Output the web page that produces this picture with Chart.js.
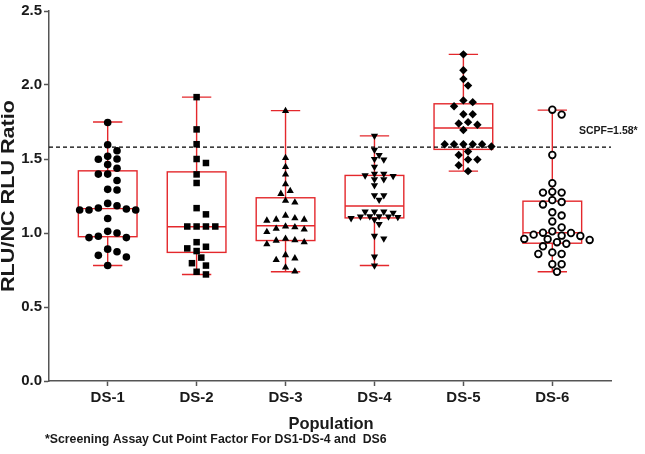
<!DOCTYPE html>
<html>
<head>
<meta charset="utf-8">
<script src="https://cdn.jsdelivr.net/npm/chart.js"></script>
<style>
  html, body { margin: 0; padding: 0; background: #fff; }
  #wrap { width: 645px; height: 454px; }
</style>
</head>
<body>
<div id="wrap"><canvas id="chart" width="645" height="454"></canvas></div>
<script>
// population labels
let categories = ["DS-1", "DS-2", "DS-3", "DS-4", "DS-5", "DS-6"];

// individual ratios
let ds1 = [1.747, 1.596, 1.556, 1.498, 1.518, 1.50, 1.462, 1.438, 1.398, 1.398, 1.355, 1.291, 1.295,
  1.20, 1.184, 1.162, 1.155, 1.169, 1.155, 1.155, 1.098, 1.0, 1.011, 0.969, 0.969, 0.978,
  0.873, 0.891, 0.849, 0.838, 0.78];
let ds2 = [1.918, 1.70, 1.60, 1.50, 1.473, 1.396, 1.338, 1.168, 1.126, 1.044, 1.044, 1.044, 1.044,
  0.938, 0.907, 0.896, 0.878, 0.834, 0.78, 0.796, 0.72, 0.738];
let ds3 = [1.825, 1.507, 1.447, 1.396, 1.33, 1.284, 1.265, 1.218, 1.207, 1.118, 1.091, 1.084, 1.091,
  1.1, 1.04, 1.024, 1.007, 1.029, 1.044, 0.962, 0.949, 0.924, 0.938, 0.951, 0.829, 0.818,
  0.851, 0.767, 0.74];
let ds4 = [1.656, 1.562, 1.5, 1.496, 1.527, 1.447, 1.40, 1.384, 1.389, 1.362, 1.40, 1.362, 1.322,
  1.255, 1.255, 1.224, 1.113, 1.107, 1.144, 1.113, 1.144, 1.091, 1.136, 1.1, 1.144, 1.111,
  1.111, 1.06, 0.98, 0.962, 0.84, 0.78];
let ds5 = [2.207, 2.1, 2.04, 1.996, 1.896, 1.884, 1.856, 1.802, 1.802, 1.749, 1.731, 1.74, 1.696,
  1.6, 1.6, 1.6, 1.6, 1.6, 1.551, 1.584, 1.527, 1.496, 1.496, 1.458, 1.418];
let ds6 = [1.833, 1.80, 1.527, 1.336, 1.278, 1.273, 1.273, 1.209, 1.193, 1.222, 1.14, 1.078, 1.118,
  1.038, 1.011, 1.0, 0.989, 1.002, 0.982, 0.96, 0.953, 0.927, 0.938, 0.958, 0.98, 0.91,
  0.858, 0.858, 0.869, 0.789, 0.789, 0.738];

// box and whisker stats (min to max)
let whiskerMin = [0.78, 0.72, 0.738, 0.78, 1.418, 0.738];
let q1 = [0.975, 0.869, 0.949, 1.102, 1.565, 0.931];
let median = [1.165, 1.042, 1.049, 1.182, 1.709, 1.002];
let q3 = [1.42, 1.413, 1.238, 1.389, 1.873, 1.215];
let whiskerMax = [1.75, 1.918, 1.827, 1.656, 2.207, 1.83];

let cutPoint = 1.58;
let yTicks = [0, 0.5, 1.0, 1.5, 2.0, 2.5];

let groups = [ds1, ds2, ds3, ds4, ds5, ds6];
let red = "#e4282c";
let fontFam = "'Liberation Sans', Arial, sans-serif";

let markers = [
  { pointStyle: "circle", radius: 3.8, rotation: 0, bg: "#000", border: "#000", bw: 0, gap: 8 },
  { pointStyle: "rect", radius: 4.6, rotation: 0, bg: "#000", border: "#000", bw: 0, gap: 8 },
  { pointStyle: "triangle", radius: 4.2, rotation: 0, bg: "#000", border: "#000", bw: 0, gap: 7.5 },
  { pointStyle: "triangle", radius: 4.2, rotation: 180, bg: "#000", border: "#000", bw: 0, gap: 5.5 },
  { pointStyle: "rectRot", radius: 4.2, rotation: 0, bg: "#000", border: "#000", bw: 0, gap: 8 },
  { pointStyle: "circle", radius: 3.3, rotation: 0, bg: "#fff", border: "#000", bw: 1.8, gap: 8 },
];

let boxPlugin = {
  id: "boxes",
  beforeDatasetsDraw(chart) {
    let ctx = chart.ctx;
    let x = chart.scales.x;
    let y = chart.scales.y;
    let area = chart.chartArea;
    ctx.save();
    ctx.strokeStyle = red;
    ctx.lineWidth = 1.4;
    categories.forEach((c, i) => {
      let cx = x.getPixelForValue(i + 1);
      let hw = x.getPixelForValue(i + 1 + 0.33) - cx;
      let cw = x.getPixelForValue(i + 1 + 0.165) - cx;
      let yMin = y.getPixelForValue(whiskerMin[i]);
      let yQ1 = y.getPixelForValue(q1[i]);
      let yMed = y.getPixelForValue(median[i]);
      let yQ3 = y.getPixelForValue(q3[i]);
      let yMax = y.getPixelForValue(whiskerMax[i]);
      ctx.beginPath();
      ctx.moveTo(cx, yMax); ctx.lineTo(cx, yQ3);
      ctx.moveTo(cx, yQ1); ctx.lineTo(cx, yMin);
      ctx.moveTo(cx - cw, yMax); ctx.lineTo(cx + cw, yMax);
      ctx.moveTo(cx - cw, yMin); ctx.lineTo(cx + cw, yMin);
      ctx.moveTo(cx - hw, yMed); ctx.lineTo(cx + hw, yMed);
      ctx.stroke();
      ctx.strokeRect(cx - hw, yQ3, 2 * hw, yQ1 - yQ3);
    });
    // cut point line
    let yc = y.getPixelForValue(cutPoint);
    ctx.strokeStyle = "#000";
    ctx.lineWidth = 1.3;
    ctx.setLineDash([4, 3]);
    ctx.beginPath();
    ctx.moveTo(area.left, yc);
    ctx.lineTo(area.right, yc);
    ctx.stroke();
    ctx.restore();
  },
  afterDraw(chart) {
    let ctx = chart.ctx;
    let x = chart.scales.x;
    let y = chart.scales.y;
    let area = chart.chartArea;
    ctx.save();
    ctx.fillStyle = "#1a1a1a";
    ctx.font = "bold 10.5px " + fontFam;
    ctx.textAlign = "left";
    ctx.textBaseline = "middle";
    ctx.fillText("SCPF=" + cutPoint + "*", x.getPixelForValue(6.3), y.getPixelForValue(cutPoint) - 16);

    ctx.font = "bold 16.5px " + fontFam;
    ctx.textAlign = "center";
    ctx.fillText("Population", (x.getPixelForValue(3) + x.getPixelForValue(4)) / 2 + 1, 424);

    ctx.save();
    ctx.translate(9, (area.top + area.bottom) / 2);
    ctx.rotate(-Math.PI / 2);
    ctx.scale(1.2, 1);
    ctx.font = "bold 18px " + fontFam;
    ctx.fillText("RLU/NC RLU Ratio", 0, 0);
    ctx.restore();

    ctx.font = "bold 12.3px " + fontFam;
    ctx.textAlign = "left";
    ctx.fillText("*Screening Assay Cut Point Factor For DS1-DS-4 and  DS6", 45, 440);
    ctx.restore();
  },
};

let datasets = groups.map((vals, g) => ({
  label: categories[g],
  data: vals.map((v) => ({ x: g + 1, y: v })),
  pointStyle: markers[g].pointStyle,
  pointRadius: markers[g].radius,
  pointRotation: markers[g].rotation,
  pointBackgroundColor: markers[g].bg,
  pointBorderColor: markers[g].border,
  pointBorderWidth: markers[g].bw,
  showLine: false,
}));

let ctx = document.getElementById("chart").getContext("2d");
let chart = new Chart(ctx, {
  type: "scatter",
  data: { datasets: datasets },
  plugins: [boxPlugin],
  options: {
    responsive: false,
    animation: false,
    layout: { padding: { top: 5, right: 34, left: 0, bottom: 0 } },
    plugins: { legend: { display: false }, tooltip: { enabled: false } },
    scales: {
      x: {
        type: "linear",
        min: 0.34,
        max: 6.66,
        afterBuildTicks: (s) => { s.ticks = categories.map((c, i) => ({ value: i + 1 })); },
        afterFit: (s) => { s.height = 73; },
        ticks: {
          callback: (v) => categories[Math.round(v) - 1],
          color: "#1a1a1a",
          font: { family: fontFam, size: 15, weight: "bold" },
          padding: 3,
          maxRotation: 0,
        },
        grid: { drawOnChartArea: false, tickLength: 5, color: "#555", tickWidth: 1.5 },
        border: { color: "#555", width: 1.5 },
      },
      y: {
        min: 0,
        max: 2.5,
        afterBuildTicks: (s) => { s.ticks = yTicks.map((v) => ({ value: v })); },
        afterFit: (s) => { s.width = 49; },
        ticks: {
          callback: (v) => v.toFixed(1),
          color: "#1a1a1a",
          font: { family: fontFam, size: 15, weight: "bold" },
          padding: 2,
        },
        grid: { drawOnChartArea: false, tickLength: 5, color: "#555", tickWidth: 1.5 },
        border: { color: "#555", width: 1.5 },
      },
    },
  },
});

// beeswarm spread of points around each category centre
let STEP = 4.67;
function swarm(vals, gap, xs, ys) {
  let pxPerX = xs.getPixelForValue(1) - xs.getPixelForValue(0);
  let order = vals.map((v, i) => i).sort((a, b) => vals[b] - vals[a]);
  let placed = [];
  let off = vals.map(() => 0);
  order.forEach((i) => {
    let py = ys.getPixelForValue(vals[i]);
    for (let k = 0; k < 60; k++) {
      let m = k === 0 ? 0 : (k % 2 ? Math.ceil(k / 2) : -k / 2);
      let px = m * STEP;
      if (placed.every((p) => (p.x - px) ** 2 + (p.y - py) ** 2 >= gap * gap)) {
        placed.push({ x: px, y: py });
        off[i] = px / pxPerX;
        break;
      }
    }
  });
  return off;
}

groups.forEach((vals, g) => {
  let off = swarm(vals, markers[g].gap, chart.scales.x, chart.scales.y);
  chart.data.datasets[g].data = vals.map((v, i) => ({ x: g + 1 + off[i], y: v }));
});
chart.update("none");
</script>
</body>
</html>
